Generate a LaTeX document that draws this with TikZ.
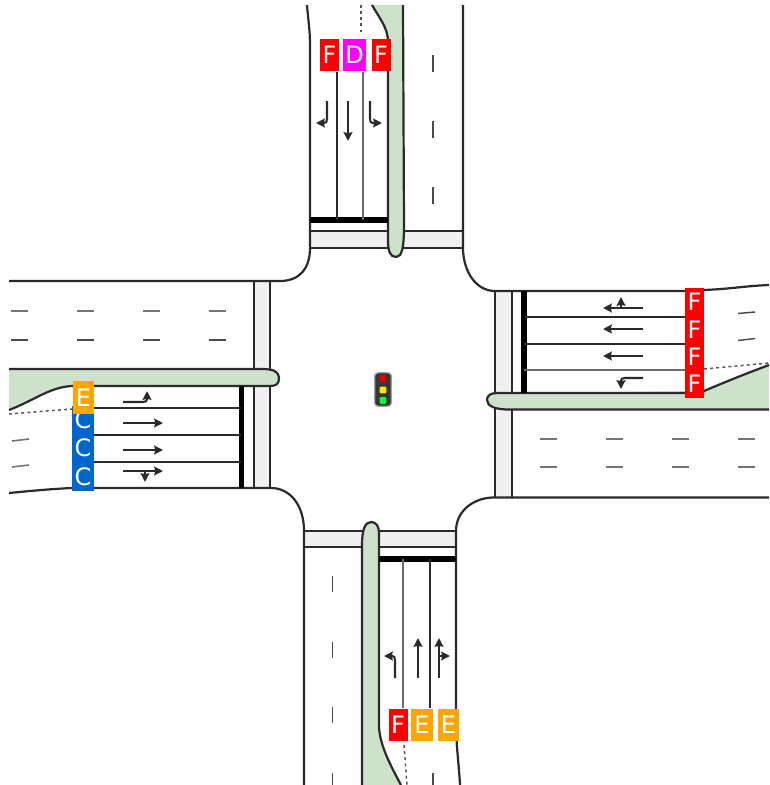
\documentclass[tikz,border=0pt]{standalone}
\usepackage{fontspec}
\setsansfont{DejaVu Sans}
\usetikzlibrary{arrows.meta}
\definecolor{curb}{HTML}{2A2A2A}
\definecolor{medgreen}{HTML}{CDE1CB}
\definecolor{walk}{HTML}{F0F0F0}
\definecolor{losF}{HTML}{FF0000}
\definecolor{losE}{HTML}{FFA500}
\definecolor{losD}{HTML}{FF00FF}
\definecolor{losC}{HTML}{0066CC}
\tikzset{
  edgeline/.style={draw=curb,line width=1.65pt},
  laneline/.style={draw=curb,line width=0.95pt},
  lanegrey/.style={draw=curb!70,line width=0.95pt},
  stopbar/.style={draw=black,line width=3.8pt},
  dashline/.style={draw=curb!85,line width=1.1pt},
  dashgrey/.style={draw=curb!65,line width=1.2pt},
  dotline/.style={draw=curb!80,line width=1.1pt,dash pattern=on 2.2pt off 2.4pt},
  walkbox/.style={fill=walk,draw=none},
  median/.style={fill=medgreen,draw=none},
  turn/.style={draw=curb,line width=1.55pt,-{Stealth[length=6.5pt,width=6.5pt,inset=0.6pt]}},
  badge/.style={draw=none,inner sep=0pt,outer sep=0pt,text=white,font=\sffamily\fontsize{18}{18}\selectfont,anchor=center},
  lamp/.style={draw=none,rounded corners=1pt,minimum size=5.2pt,inner sep=0pt}
}
\begin{document}
\begin{tikzpicture}[x=0.75pt,y=-0.75pt]
\useasboundingbox (0,0) rectangle (769,785);
% crosswalks
\fill[walkbox] (310,231) rectangle (463,248);
\fill[walkbox] (254,281) rectangle (270,488);
\fill[walkbox] (495,291) rectangle (512,497);
\fill[walkbox] (304,531) rectangle (456,547);
\draw[edgeline] (310,231) -- (463,231) (310,248) -- (463,248);
\draw[edgeline] (254,281) -- (254,488) (270,281) -- (270,488);
\draw[edgeline] (495,291) -- (495,497) (512,291) -- (512,497);
\draw[edgeline] (304,531) -- (456,531) (304,547) -- (456,547);
% medians
\fill[median] (372,5) .. controls (380,19) and (388,28) .. (388,42) -- (388,240) .. controls (388,251) and (390,257) .. (396,257) .. controls (402,257) and (404,248) .. (404,225) -- (403,5) -- cycle;
\draw[edgeline] (372,5) .. controls (380,19) and (388,28) .. (388,42) -- (388,240) .. controls (388,251) and (390,257) .. (396,257) .. controls (402,257) and (404,248) .. (404,225) -- (403,5);
\fill[median] (9,410) .. controls (35,400) and (50,387) .. (72,386) -- (270,386) .. controls (276,386) and (279,384) .. (279,378) .. controls (279,372) and (274,369) .. (262,369) -- (9,369) -- cycle;
\draw[edgeline] (9,410) .. controls (35,400) and (50,387) .. (72,386) -- (270,386) .. controls (276,386) and (279,384) .. (279,378) .. controls (279,372) and (274,369) .. (262,369) -- (9,369);
\fill[median] (769,365) .. controls (745,374) and (725,382) .. (704,391) -- (497,393) .. controls (490,393) and (487,396) .. (487,400) .. controls (487,406) and (495,410) .. (512,410) -- (769,409) -- cycle;
\draw[edgeline] (769,365) .. controls (745,374) and (725,382) .. (704,391) (704,393) -- (497,393) .. controls (490,393) and (487,396) .. (487,400) .. controls (487,406) and (495,410) .. (512,409.5) -- (769,409.5);
\fill[median] (401,785) .. controls (392,768) and (379,745) .. (379,725) -- (379,533) .. controls (379,526) and (376,522) .. (371,522) .. controls (365,522) and (362,530) .. (362,545) -- (362,785) -- cycle;
\draw[edgeline] (401,785) .. controls (392,768) and (379,745) .. (379,725) -- (379,533) .. controls (379,526) and (376,522) .. (371,522) .. controls (365,522) and (362,530) .. (362,545) -- (362,785);
% road edges and corners
\draw[edgeline] (307,5) .. controls (308,18) and (310,30) .. (310,45) -- (310,248) .. controls (310,268) and (300,281) .. (280,281) -- (9,281);
\draw[edgeline] (463,5) -- (463,248) .. controls (463,270) and (475,291) .. (495,291) -- (690,291) (704,290) .. controls (730,289) and (745,286) .. (769,285);
\draw[edgeline] (769,497.5) -- (495,497.5) .. controls (475,497) and (456,510) .. (456,531) -- (456,723) .. controls (456,745) and (459,765) .. (460,785);
\draw[edgeline] (9,493) .. controls (30,491) and (50,489) .. (72,488) -- (271,488) .. controls (290,488) and (304,505) .. (304,531) -- (304,785);
% stop bars
\draw[stopbar] (310,220) -- (388,220);
\draw[stopbar] (241.5,386) -- (241.5,488);
\draw[stopbar] (524,291) -- (524,393);
\draw[stopbar] (379,559) -- (456,559);
% lane lines
\draw[laneline] (337,72) -- (337,220);
\draw[lanegrey] (363,72) -- (363,220);
\draw[laneline] (94,408) -- (241,408) (94,435) -- (241,435) (94,462) -- (241,462);
\draw[laneline] (524,317) -- (685,317) (524,344) -- (685,344);
\draw[lanegrey] (524,370) -- (685,370);
\draw[lanegrey] (403,559) -- (403,708);
\draw[laneline] (430,559) -- (430,708);
% dotted
\draw[dotline] (361,5) -- (361,35);
\draw[dotline] (9,414) -- (72,409);
\draw[dotline] (704,369) -- (769,363);
\draw[dotline] (404,745) -- (407,785);
% dashes
\foreach \y in {55,121,187} \draw[dashline] (433,\y) -- (433,\y+17);
\foreach \y in {576,642,707,773} \draw[dashline] (332.7,\y) -- (332.7,{min(\y+16,785)});
\draw[dashline] (433,773) -- (433,785);
\foreach \x in {11,77,143,209} {\draw[dashgrey] (\x,311) -- (\x+17,311); \draw[dashline] (\x,340) -- (\x+17,340);}
\foreach \x in {540,606,672,738} {\draw[dashgrey] (\x,439) -- (\x+17,439); \draw[dashgrey] (\x,467) -- (\x+17,467);}
\draw[dashgrey] (12,441) -- (29,439) (12,467) -- (29,465);
\draw[dashline] (738,313.5) -- (755,312) (738,340.5) -- (755,338.5);
% arrows north
\draw[turn] (327,101) -- (327,119) .. controls (327,122) and (326,123) .. (324,123) -- (316,123);
\draw[turn] (348,101) -- (348,141);
\draw[turn] (370,101) -- (370,119) .. controls (370,122) and (371,123) .. (373,123) -- (382,123);
% arrows west
\draw[turn] (123,402) -- (143,402) .. controls (146,402) and (147,401) .. (147,399) -- (147,391);
\draw[turn] (123,423) -- (163,423);
\draw[turn] (123,450) -- (163,450);
\draw[turn] (123,471) -- (163,471);
\draw[turn] (145,471) -- (145,482);
% arrows east
\draw[turn] (643,308) -- (603,308);
\draw[turn] (621,308) -- (621,297);
\draw[turn] (643,329) -- (603,329);
\draw[turn] (643,356) -- (603,356);
\draw[turn] (643,378) -- (625,378) .. controls (622,378) and (621,379) .. (621,381) -- (621,389);
% arrows south
\draw[turn] (395,678) -- (395,660) .. controls (395,657) and (394,656) .. (392,656) -- (384,656);
\draw[turn] (418,678) -- (418,638);
\draw[turn] (439,678) -- (439,638);
\draw[turn] (439,656) -- (450,656);
% badges
\node[badge,fill=losF,minimum width=14.25pt,minimum height=24pt] (nF1) at (329.5,55) {F};
\node[badge,fill=losD,minimum width=17.25pt,minimum height=24pt] (nD) at (354.5,55) {D};
\node[badge,fill=losF,minimum width=14.25pt,minimum height=24pt] (nF2) at (381,55) {F};
\node[badge,fill=losC,minimum width=17pt,minimum height=21.5pt] (wC1) at (83,420) {C};
\node[badge,fill=losC,minimum width=17pt,minimum height=21.5pt] (wC2) at (83,448) {C};
\node[badge,fill=losC,minimum width=17pt,minimum height=21.5pt] (wC3) at (83,476.5) {C};
\node[badge,fill=losE,minimum width=16pt,minimum height=24.75pt] (wE) at (83.5,397.5) {E};
\node[badge,fill=losF,minimum width=14.25pt,minimum height=21pt] (eF1) at (694.5,302) {F};
\node[badge,fill=losF,minimum width=14.25pt,minimum height=21pt] (eF2) at (694.5,329.5) {F};
\node[badge,fill=losF,minimum width=14.25pt,minimum height=21pt] (eF3) at (694.5,356.5) {F};
\node[badge,fill=losF,minimum width=14.25pt,minimum height=21pt] (eF4) at (694.5,384) {F};
\node[badge,fill=losF,minimum width=14.25pt,minimum height=24pt] (sF) at (398,724.5) {F};
\node[badge,fill=losE,minimum width=16pt,minimum height=24pt] (sE1) at (422,724.5) {E};
\node[badge,fill=losE,minimum width=16pt,minimum height=24pt] (sE2) at (448.5,724.5) {E};
% signal
\node[draw=curb!45,fill=curb!95,line width=0.9pt,rounded corners=2.5pt,minimum width=12.5pt,minimum height=25pt,inner sep=0pt] (signal) at (383,389.5) {};
\node[lamp,fill=red!90!black] (lampR) at (383,378.5) {};
\node[lamp,fill=yellow!90!orange] (lampY) at (383,390) {};
\node[lamp,fill=green!75!cyan] (lampG) at (383,400.5) {};
\end{tikzpicture}
\end{document}
